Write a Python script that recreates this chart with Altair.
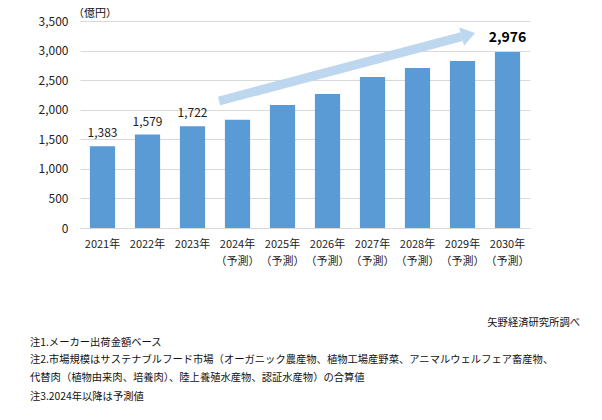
import altair as alt
import pandas as pd

FONT = "Noto Sans CJK JP"

# ---- data ----
years = ["2021年", "2022年", "2023年", "2024年", "2025年",
         "2026年", "2027年", "2028年", "2029年", "2030年"]
values = [1383, 1579, 1722, 1830, 2080, 2266, 2553, 2705, 2824, 2976]
labeled_years = ["2021年", "2022年", "2023年"]
highlight_years = ["2030年"]
y_ticks = [0, 500, 1000, 1500, 2000, 2500, 3000, 3500]

# trend arrow (x in bar-slot units 0..10, y in 億円)
arrow_x = [3.09, 8.48]
arrow_y = [2147, 3236]
head_x = [8.63]
head_y = [3267]

unit_text = "（億円）"
source_text = "矢野経済研究所調べ"
notes = [
    "注1.メーカー出荷金額ベース",
    "注2.市場規模はサステナブルフード市場（オーガニック農産物、植物工場産野菜、アニマルウェルフェア畜産物、",
    "代替肉（植物由来肉、培養肉）、陸上養殖水産物、認証水産物）の合算値",
    "注3.2024年以降は予測値",
]

df = pd.DataFrame({"year": years, "value": values})
df["lab"] = df["year"].isin(labeled_years)
df["hi"] = df["year"].isin(highlight_years)

x_enc = alt.X(
    "year:N",
    sort=years,
    scale=alt.Scale(domain=years, paddingInner=0.44, paddingOuter=0.22),
    axis=alt.Axis(
        title=None, labelAngle=0, labelFontSize=11, labelPadding=10,
        ticks=False, domainColor="#d9d9d9", labelColor="#222",
        labelLineHeight=17,
        labelExpr="toNumber(slice(datum.label, 0, 4)) >= 2024 ? [datum.label, '（予測）'] : datum.label",
    ),
)
y_scale = alt.Scale(domain=[0, 3500], nice=False, zero=True)
y_axis = alt.Axis(
    title=None, values=y_ticks, ticks=False, domain=False,
    labelExpr="format(datum.value, ',')",
    gridColor="#d9d9d9", labelPadding=12, labelFontSize=12,
    labelColor="#222",
)
y_enc = alt.Y("value:Q", scale=y_scale, axis=y_axis)

base = alt.Chart(df)
bars = base.mark_bar(color="#5B9BD5").encode(x=x_enc, y=y_enc)
labels = base.transform_filter("datum.lab").mark_text(
    baseline="alphabetic", dy=-9, fontSize=12, color="#222"
).encode(x=x_enc, y=y_enc, text=alt.Text("value:Q", format=","))
hi_label = base.transform_filter("datum.hi").mark_text(
    baseline="alphabetic", dy=-10, fontSize=14, fontWeight="bold", color="#000"
).encode(x=x_enc, y=y_enc, text=alt.Text("value:Q", format=","))

bar_layer = alt.layer(bars, labels, hi_label)

ax_scale = alt.Scale(domain=[0, 10], nice=False, zero=False)
arrow_df = pd.DataFrame({"ax": arrow_x, "value": arrow_y})
head_df = pd.DataFrame({"ax": head_x, "value": head_y})
arrow_line = alt.Chart(arrow_df).mark_line(
    color="#BDD7EE", strokeWidth=9, strokeCap="butt"
).encode(
    x=alt.X("ax:Q", scale=ax_scale, axis=None),
    y=y_enc,
)
arrow_head = alt.Chart(head_df).mark_point(
    shape="M -0.737 -1 L 0.737 0 L -0.737 1 Z", size=361, angle=345.1,
    filled=True, opacity=1, color="#BDD7EE", strokeWidth=0,
).encode(
    x=alt.X("ax:Q", scale=ax_scale, axis=None),
    y=y_enc,
)
arrow_layer = alt.layer(arrow_line, arrow_head)


def txt(s, x, y, align="left", size=10.3):
    return alt.Chart(pd.DataFrame({"t": [s]})).mark_text(
        x=x, y=y, align=align, baseline="middle", fontSize=size, color="#111"
    ).encode(text="t:N")


texts = [txt(unit_text, -7, -7, size=11), txt(source_text, 500, 302, align="right")]
for n, yy in zip(notes, [322, 339, 357, 376]):
    texts.append(txt(n, -50, yy))

chart = alt.layer(bar_layer, arrow_layer, *texts).resolve_scale(x="independent").properties(
    width=450,
    height=207,
    autosize=alt.AutoSizeParams(type="none"),
    padding={"left": 72, "top": 13, "right": 64, "bottom": 184},
).configure(font=FONT).configure_view(stroke=None)

chart.save("out.html", embed_options={"renderer": "svg", "actions": False})
